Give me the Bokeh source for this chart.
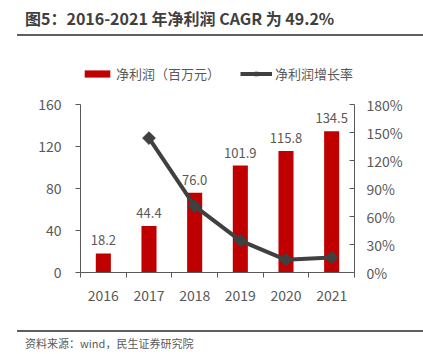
import math
from bokeh.plotting import figure
from bokeh.layouts import column
from bokeh.models import (Range1d, LinearAxis, FixedTicker, Legend, LegendItem, Div,
                          ColumnDataSource, PrintfTickFormatter)
from bokeh.core.properties import value
from bokeh.embed import file_html
from bokeh.resources import INLINE

years = ["2016", "2017", "2018", "2019", "2020", "2021"]
profit = [18.2, 44.4, 76.0, 101.9, 115.8, 134.5]
growth = [None, 144.0, 71.2, 34.1, 13.6, 16.1]
left_ticks = [0, 40, 80, 120, 160]
right_ticks = [0, 30, 60, 90, 120, 150, 180]

title_text = "图5：2016-2021 年净利润 CAGR 为 49.2%"
source_text = "资料来源：wind，民生证券研究院"
bar_name = "净利润（百万元）"
line_name = "净利润增长率"

FONT = "Noto Sans CJK SC"
GRAY = "#595959"
DARK = "#404040"
RED = "#C00000"

n = len(years)
xs = [i + 0.5 for i in range(n)]
bar_src = ColumnDataSource(dict(x=xs, top=profit, lab=["%.1f" % v for v in profit]))
gx = [x for x, g in zip(xs, growth) if g is not None]
gy = [g for g in growth if g is not None]
line_src = ColumnDataSource(dict(x=gx, y=gy))

# frame: canvas x 80..354, y 54..272 (figure starts at canvas y 40); 160 sits at canvas 104
px_per_y = 168.0 / 160
px_per_p = 168.0 / 180
y_range = Range1d(0, 160 + 50 / px_per_y)

p = figure(width=423, height=290, output_backend="svg", toolbar_location=None,
           title=None, x_range=Range1d(0, n), y_range=y_range,
           min_border_left=80, min_border_right=69, min_border_top=14, min_border_bottom=58,
           margin=0)
p.extra_y_ranges = {"pct": Range1d(0, 180 + 50 / px_per_p)}
p.grid.visible = False
p.outline_line_color = None
p.background_fill_color = "white"
p.border_fill_color = "white"

# x axis
xa = p.xaxis[0]
xa.ticker = FixedTicker(ticks=xs, minor_ticks=list(range(n + 1)))
xa.major_label_overrides = {x: y for x, y in zip(xs, years)}
xa.major_tick_out = 0
xa.major_tick_in = 0
xa.minor_tick_out = 5
xa.minor_tick_in = 0
xa.minor_tick_line_color = GRAY
xa.axis_line_color = GRAY
xa.major_label_standoff = 12
xa.major_label_text_font = FONT
xa.major_label_text_font_size = "14px"
xa.major_label_text_color = GRAY

# left axis
ya = p.yaxis[0]
ya.bounds = (0, 160)
ya.ticker = FixedTicker(ticks=left_ticks)
ya.major_tick_out = 5
ya.major_tick_in = 0
ya.minor_tick_out = 0
ya.minor_tick_in = 0
ya.axis_line_color = GRAY
ya.major_tick_line_color = GRAY
ya.major_label_standoff = 14
ya.major_label_text_font = FONT
ya.major_label_text_font_size = "14px"
ya.major_label_text_color = GRAY

# right axis
ra = LinearAxis(y_range_name="pct", ticker=FixedTicker(ticks=right_ticks),
                formatter=PrintfTickFormatter(format="%d%%"), bounds=(0, 180))
ra.major_tick_out = 0
ra.major_tick_in = 5
ra.minor_tick_out = 0
ra.minor_tick_in = 0
ra.axis_line_color = GRAY
ra.major_tick_line_color = GRAY
ra.major_label_standoff = 12
ra.major_label_text_font = FONT
ra.major_label_text_font_size = "14px"
ra.major_label_text_color = GRAY
p.add_layout(ra, "right")

bars = p.vbar(x="x", top="top", width=0.33, source=bar_src, fill_color=RED, line_color=None)
p.text(x="x", y="top", text="lab", source=bar_src, text_align="center",
       text_baseline="bottom", y_offset=-8, text_font=value(FONT),
       text_font_size="13px", text_color=GRAY)

ln = p.line("x", "y", source=line_src, y_range_name="pct", line_color=DARK, line_width=4)
mk = p.scatter("x", "y", source=line_src, y_range_name="pct", marker="square",
               angle=math.pi / 4, size=9, fill_color=DARK, line_color=DARK)

legend = Legend(items=[LegendItem(label=bar_name, renderers=[bars]),
                       LegendItem(label=line_name, renderers=[ln, mk])],
                orientation="horizontal", location=(1, 189),
                glyph_width=32, glyph_height=9, label_standoff=3, spacing=20,
                padding=0, margin=0, border_line_color=None, background_fill_alpha=0,
                label_text_font=FONT, label_text_font_size="13px", label_text_color=GRAY)
p.add_layout(legend, "center")

title_div = Div(width=423, height=40, margin=0, text=(
    '<div style="margin-left:17px;width:406px;height:36px;border-bottom:2px solid #5f5f5f;'
    'box-sizing:border-box;padding:7px 0 0 8px;">'
    '<span style="font-family:\'Noto Sans CJK SC\';font-weight:bold;font-size:16px;'
    'line-height:22px;color:#404040;white-space:nowrap;">' + title_text + '</span></div>'))

footer_div = Div(width=423, height=24, margin=0, text=(
    '<div style="margin-left:17px;width:406px;height:22px;border-top:2px solid #5f5f5f;'
    'box-sizing:content-box;padding:1px 0 0 8px;">'
    '<span style="font-family:\'Noto Sans CJK SC\';font-size:11px;line-height:20px;'
    'color:#595959;white-space:nowrap;">' + source_text + '</span></div>'))

layout = column(title_div, p, footer_div, spacing=0, margin=0)
open("out.html", "w").write(file_html(layout, INLINE))
